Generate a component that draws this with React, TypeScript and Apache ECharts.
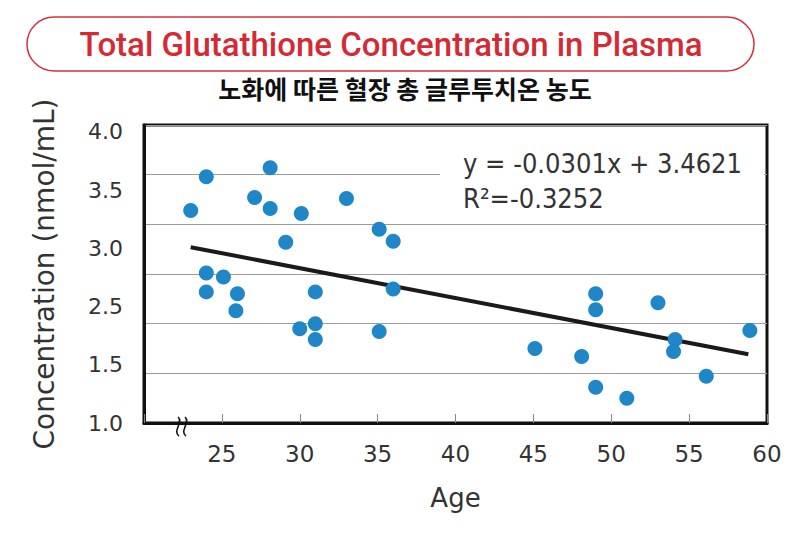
import React, { useEffect, useRef } from 'react';
import * as echarts from 'echarts';

// Age (years) and total glutathione concentration (nmol/mL) per subject
const ages = [23, 24, 28.1, 27.1, 28.1, 30.1, 33, 29.1, 35.1, 36, 24, 25.1, 24, 26, 25.9, 31, 36, 30, 31, 31, 35.1, 49, 49, 53, 45.1, 48.1, 54.1, 54, 58.9, 56.1, 49, 51];
const concentrations = [3.14, 3.48, 3.57, 3.27, 3.16, 3.11, 3.26, 2.82, 2.95, 2.83, 2.51, 2.47, 2.32, 2.3, 2.13, 2.32, 2.35, 1.95, 2.0, 1.84, 1.92, 2.3, 2.14, 2.21, 1.75, 1.67, 1.84, 1.72, 1.93, 1.47, 1.36, 1.25];

// Linear fit stated on the chart
const slope = -0.0301;
const intercept = 3.4621;
const trendAges = [23, 58.8];

// Printed value-axis labels (evenly spaced down the left side)
const yTickLabels = ['1.0', '1.5', '2.5', '3.0', '3.5', '4.0'];

const titleText = 'Total Glutathione Concentration in Plasma';
const subtitleText = '노화에 따른 혈장 총 글루투치온 농도';
const equationText = 'y = -0.0301x + 3.4621';
const r2Text = 'R²=-0.3252';

const COND_FONT = '"DejaVu Sans Condensed", "DejaVu Sans", sans-serif';
const WIDE_FONT = '"DejaVu Sans", sans-serif';

export default function App() {
  const ref = useRef<HTMLDivElement>(null);

  useEffect(() => {
    document.body.style.margin = '0';
    if (!ref.current) return;
    const chart = echarts.init(ref.current, null, { renderer: 'svg' });

    const points = ages.map((a, i) => [a, concentrations[i]]);
    const trend = trendAges.map((a) => [a, slope * a + intercept]);

    chart.setOption({
      animation: false,
      backgroundColor: '#ffffff',
      grid: {
        left: 144,
        right: 33,
        top: 125,
        bottom: 110,
        show: true,
        borderColor: '#111',
        borderWidth: 3,
        backgroundColor: 'transparent',
      },
      xAxis: {
        type: 'value',
        min: 20,
        max: 60,
        interval: 5,
        name: 'Age',
        nameLocation: 'middle',
        nameGap: 62,
        nameTextStyle: { fontSize: 26, color: '#333', fontFamily: WIDE_FONT },
        axisLine: { show: true, lineStyle: { color: '#111', width: 3 } },
        axisTick: { show: true, inside: true, length: 9, lineStyle: { color: '#888', width: 1 } },
        axisLabel: {
          formatter: (v: number) => (v === 20 ? '' : String(v)),
          fontSize: 23,
          color: '#333',
          margin: 19,
          fontFamily: WIDE_FONT,
        },
        splitLine: { show: false },
      },
      yAxis: [
        {
          type: 'value',
          min: 1,
          max: 4,
          interval: 0.5,
          name: 'Concentration (nmol/mL)',
          nameLocation: 'middle',
          nameGap: 86,
          nameTextStyle: { fontSize: 28, color: '#333', fontFamily: WIDE_FONT },
          axisLine: { show: true, lineStyle: { color: '#111', width: 3 } },
          axisTick: { show: false },
          axisLabel: { show: false },
          splitLine: { show: true, lineStyle: { color: '#9c9c9c', width: 1 } },
        },
        {
          type: 'value',
          min: 0,
          max: 5.12,
          interval: 1,
          position: 'left',
          axisLine: { show: false },
          axisTick: { show: false },
          splitLine: { show: false },
          axisLabel: {
            showMaxLabel: false,
            formatter: (v: number) =>
              Number.isInteger(v) && v >= 0 && v < yTickLabels.length ? yTickLabels[v] : '',
            fontSize: 22,
            color: '#333',
            margin: 21,
            fontFamily: WIDE_FONT,
          },
        },
      ],
      series: [
        {
          type: 'line',
          data: trend,
          xAxisIndex: 0,
          yAxisIndex: 0,
          symbol: 'none',
          lineStyle: { color: '#1a1a1a', width: 4 },
          z: 2,
        },
        {
          type: 'scatter',
          data: points,
          xAxisIndex: 0,
          yAxisIndex: 0,
          symbolSize: 15,
          itemStyle: { color: '#1f87c8', opacity: 1 },
          z: 3,
        },
      ],
      graphic: [
        {
          type: 'rect',
          shape: { x: 27, y: 17, width: 727, height: 54, r: 27 },
          style: { fill: 'none', stroke: '#d4303b', lineWidth: 1.5 },
        },
        {
          type: 'text',
          x: 391,
          y: 44,
          style: {
            text: titleText,
            align: 'center',
            verticalAlign: 'middle',
            fontSize: 33,
            fontWeight: 500,
            fontFamily: 'Roboto, "DejaVu Sans Condensed", sans-serif',
            fill: '#d42a35',
          },
        },
        {
          type: 'text',
          x: 405,
          y: 88,
          style: {
            text: subtitleText,
            align: 'center',
            verticalAlign: 'middle',
            fontSize: 25,
            fontWeight: 'bold',
            fontFamily: '"Noto Sans CJK KR", sans-serif',
            fill: '#111',
          },
        },
        {
          type: 'rect',
          z: 5,
          shape: { x: 440, y: 132, width: 324, height: 86 },
          style: { fill: '#ffffff' },
        },
        {
          type: 'text',
          z: 6,
          x: 463,
          y: 163,
          style: {
            text: equationText,
            align: 'left',
            verticalAlign: 'middle',
            fontSize: 27,
            fontFamily: COND_FONT,
            fill: '#333',
          },
        },
        {
          type: 'text',
          z: 6,
          x: 463,
          y: 198,
          style: {
            text: r2Text,
            align: 'left',
            verticalAlign: 'middle',
            fontSize: 27,
            fontFamily: COND_FONT,
            fill: '#333',
          },
        },
        {
          type: 'bezierCurve',
          z: 6,
          shape: { x1: 178, y1: 417, cpx1: 184, cpy1: 422, cpx2: 172, cpy2: 431, x2: 179, y2: 436 },
          style: { stroke: '#111', lineWidth: 1.6, fill: 'none' },
        },
        {
          type: 'bezierCurve',
          z: 6,
          shape: { x1: 185, y1: 417, cpx1: 191, cpy1: 422, cpx2: 179, cpy2: 431, x2: 186, y2: 436 },
          style: { stroke: '#111', lineWidth: 1.6, fill: 'none' },
        },
      ],
    });

    return () => chart.dispose();
  }, []);

  return <div ref={ref} style={{ width: 800, height: 533 }} />;
}
